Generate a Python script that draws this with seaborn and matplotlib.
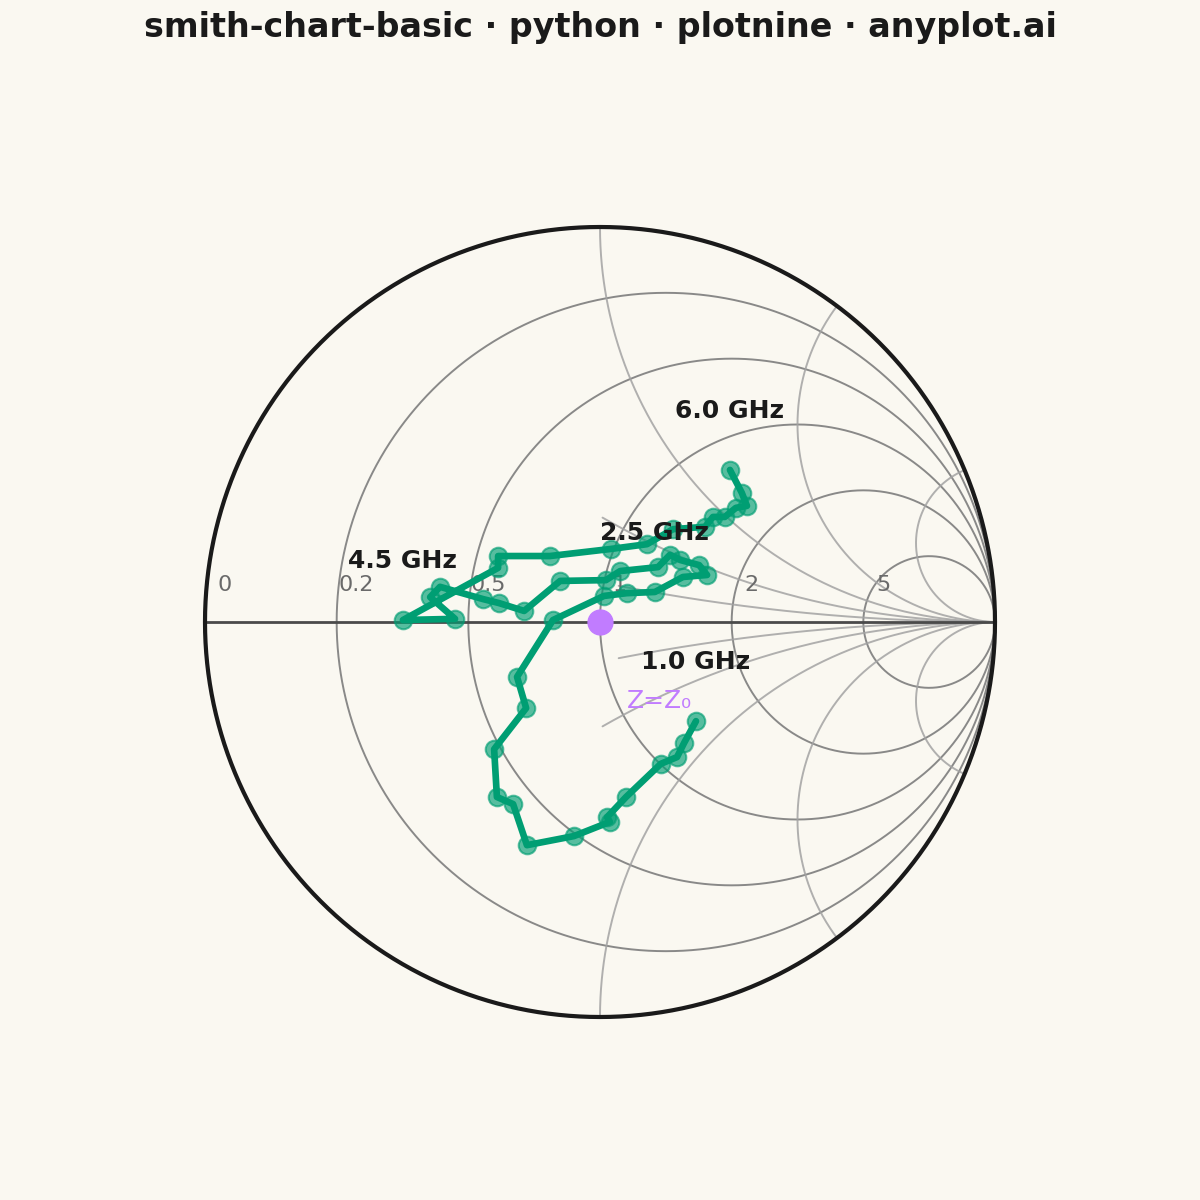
import matplotlib

matplotlib.use('Agg')

import matplotlib.pyplot as plt
import numpy as np
import pandas as pd
import seaborn as sns


gamma_re = [
    0.243, 0.213, 0.195, 0.154, 0.066, 0.018, 0.025, -0.066, -0.185, -0.220,
    -0.261, -0.268, -0.187, -0.210, -0.119, 0.010, 0.068, 0.139, 0.210, 0.271,
    0.251, 0.203, 0.177, 0.147, 0.051, 0.015, -0.101, -0.192, -0.256, -0.296,
    -0.405, -0.430, -0.367, -0.499, -0.258, -0.258, -0.127, 0.028, 0.119, 0.185,
    0.266, 0.286, 0.316, 0.344, 0.372, 0.359, 0.329,
]
gamma_im = [
    -0.251, -0.306, -0.342, -0.359, -0.443, -0.494, -0.506, -0.542, -0.565, -0.461,
    -0.443, -0.322, -0.218, -0.139, 0.005, 0.066, 0.073, 0.076, 0.114, 0.119,
    0.144, 0.157, 0.170, 0.139, 0.129, 0.106, 0.104, 0.028, 0.048, 0.058,
    0.089, 0.063, 0.008, 0.005, 0.137, 0.167, 0.167, 0.185, 0.197, 0.235,
    0.241, 0.266, 0.266, 0.289, 0.294, 0.327, 0.385,
]

freq_labels = ['1.0 GHz', '2.5 GHz', '4.5 GHz', '6.0 GHz']
freq_label_idx = [0, 17, 33, 46]

resistance_values = [0, 0.2, 0.5, 1, 2, 5]
resistance_text = ['0', '0.2', '0.5', '1', '2', '5']
reactance_values = [0.2, 0.5, 1, 2, 5]
reactance_r_start = [1.08, 0.88, 0, 0, 0]

BG = '#FAF8F1'
INK = '#1A1A1A'
GREEN = '#009E73'
PURPLE = '#C17CFF'

sns.set_theme(
    style='white',
    rc={
        'figure.facecolor': BG,
        'axes.facecolor': BG,
    },
)

plt.rcParams['font.family'] = ['DejaVu Sans']

fig = plt.figure(
    figsize=(12, 12),
    dpi=100,
)

ax = fig.add_axes([0, 0, 1, 1])

scale = 395.0

ax.set_xlim(-600 / scale, 600 / scale)
ax.set_ylim(-578 / scale, 622 / scale)
ax.set_axis_off()

theta = np.linspace(0, 2 * np.pi, 721)

# constant resistance circles
for r in resistance_values[1:]:

    cx = r / (1 + r)
    rad = 1 / (1 + r)

    ax.plot(
        cx + rad * np.cos(theta),
        rad * np.sin(theta),
        color='#7d7d7d',
        lw=1.4,
        alpha=0.9,
        zorder=1,
    )

# constant reactance arcs
for x, r0 in zip(reactance_values, reactance_r_start):

    r_vals = np.concatenate([
        np.linspace(r0, 5, 400),
        np.logspace(np.log10(5), 5, 400),
    ])

    for sign in (1, -1):

        z = r_vals + 1j * sign * x
        g = (z - 1) / (z + 1)

        ax.plot(
            g.real,
            g.imag,
            color='#a3a3a3',
            lw=1.4,
            alpha=0.85,
            zorder=1,
        )

# real axis
ax.plot(
    [-1, 1],
    [0, 0],
    color='#4a4a4a',
    lw=2,
    zorder=2,
)

# unit circle (r = 0)
ax.plot(
    np.cos(theta),
    np.sin(theta),
    color=INK,
    lw=3,
    zorder=3,
)

for r, txt in zip(resistance_values, resistance_text):

    left = (r - 1) / (r + 1)

    ax.text(
        left + 0.05,
        0.093,
        txt,
        fontsize=16,
        color='#6a6a6a',
        ha='center',
        va='center',
        zorder=4,
    )

df = pd.DataFrame({
    're': gamma_re,
    'im': gamma_im,
    'step': range(len(gamma_re)),
})

sns.lineplot(
    data=df,
    x='re',
    y='im',
    sort=False,
    estimator=None,
    color=GREEN,
    lw=4.8,
    ax=ax,
    zorder=5,
)

sns.scatterplot(
    data=df,
    x='re',
    y='im',
    color=GREEN,
    s=160,
    alpha=0.65,
    edgecolor=GREEN,
    linewidth=1.5,
    ax=ax,
    zorder=6,
)

ax.set_xlabel('')
ax.set_ylabel('')

# matched point
ax.scatter(
    [0],
    [0],
    s=320,
    color=PURPLE,
    zorder=7,
)

ax.text(
    0.15,
    -0.2,
    'Z=Z\u2080',
    fontsize=18,
    color=PURPLE,
    ha='center',
    va='center',
    zorder=7,
)

for label, idx in zip(freq_labels, freq_label_idx):

    ax.text(
        gamma_re[idx],
        gamma_im[idx] + 0.15,
        label,
        fontsize=18,
        fontweight='bold',
        color=INK,
        ha='center',
        va='center',
        zorder=8,
    )

fig.text(
    0.5,
    1 - 28 / 1200,
    'smith-chart-basic \u00b7 python \u00b7 plotnine \u00b7 anyplot.ai',
    fontsize=24,
    fontweight='bold',
    color=INK,
    ha='center',
    va='center',
)

fig.savefig(
    'out.png',
    dpi=100,
    facecolor=BG,
)

plt.close(fig)
